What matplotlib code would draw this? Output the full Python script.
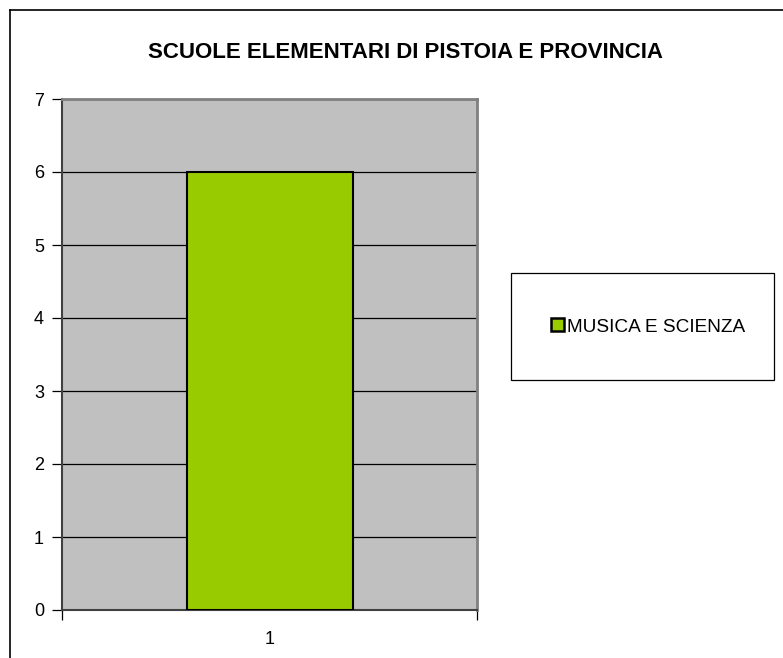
import matplotlib
matplotlib.use("Agg")
import matplotlib.pyplot as plt
from matplotlib.lines import Line2D
from matplotlib.patches import Patch, Rectangle

plt.rcParams["font.family"] = ["Liberation Sans", "DejaVu Sans"]

# Dati
categorie = [1]
valori = [6]
serie = "MUSICA E SCIENZA"
titolo = "SCUOLE ELEMENTARI DI PISTOIA E PROVINCIA"

fig = plt.figure(figsize=(7.83, 6.58), dpi=100)
ax = fig.add_axes([62 / 783, 1 - 610 / 658, 415 / 783, 511 / 658])

ax.set_facecolor("#C0C0C0")
ax.bar(categorie, valori, width=0.4, color="#99CC00", edgecolor="black",
       linewidth=1.5, zorder=3)

ax.set_xlim(0.5, 1.5)
ax.set_ylim(0, 7)
ax.set_yticks(range(0, 8))
ax.yaxis.grid(True, color="black", linewidth=0.9, zorder=1)
ax.set_axisbelow(True)

ax.set_xticks(categorie)
ax.set_xticklabels([str(c) for c in categorie])
ax.tick_params(axis="x", length=0, pad=15, labelsize=13)
ax.tick_params(axis="y", length=7, width=0.9, pad=6, labelsize=13)

# tacche di categoria sull'asse x
ax.set_xticks([0.5, 1.5], minor=True)
ax.tick_params(axis="x", which="minor", length=7, width=0.9, color="black")

for s in ["top", "right"]:
    ax.spines[s].set_color("#808080")
    ax.spines[s].set_linewidth(2)
for s in ["left", "bottom"]:
    ax.spines[s].set_color("#404040")
    ax.spines[s].set_linewidth(1.5)

fig.text(405 / 783, 1 - 53 / 658, titolo, ha="center", va="center",
         fontsize=16, fontweight="bold")

# riquadro della legenda
fig.add_artist(Rectangle((511 / 783, 1 - 380 / 658), 263 / 783, 107 / 658,
                         transform=fig.transFigure, facecolor="white",
                         edgecolor="black", linewidth=0.9))
handles = [Patch(facecolor="#99CC00", edgecolor="black", linewidth=1.8, label=serie)]
leg = fig.legend(handles=handles, loc="center",
                 bbox_to_anchor=(648 / 783, 1 - 327 / 658),
                 frameon=False, fontsize=13.7, handlelength=0.65,
                 handleheight=0.65, handletextpad=0.15, borderaxespad=0)

# cornice del grafico
fig.add_artist(Line2D([10 / 783, 10 / 783], [0, 1 - 10 / 658], color="black", linewidth=1.2))
fig.add_artist(Line2D([10 / 783, 1], [1 - 10 / 658, 1 - 10 / 658], color="black", linewidth=1.2))

fig.savefig("out.png", dpi=100)
